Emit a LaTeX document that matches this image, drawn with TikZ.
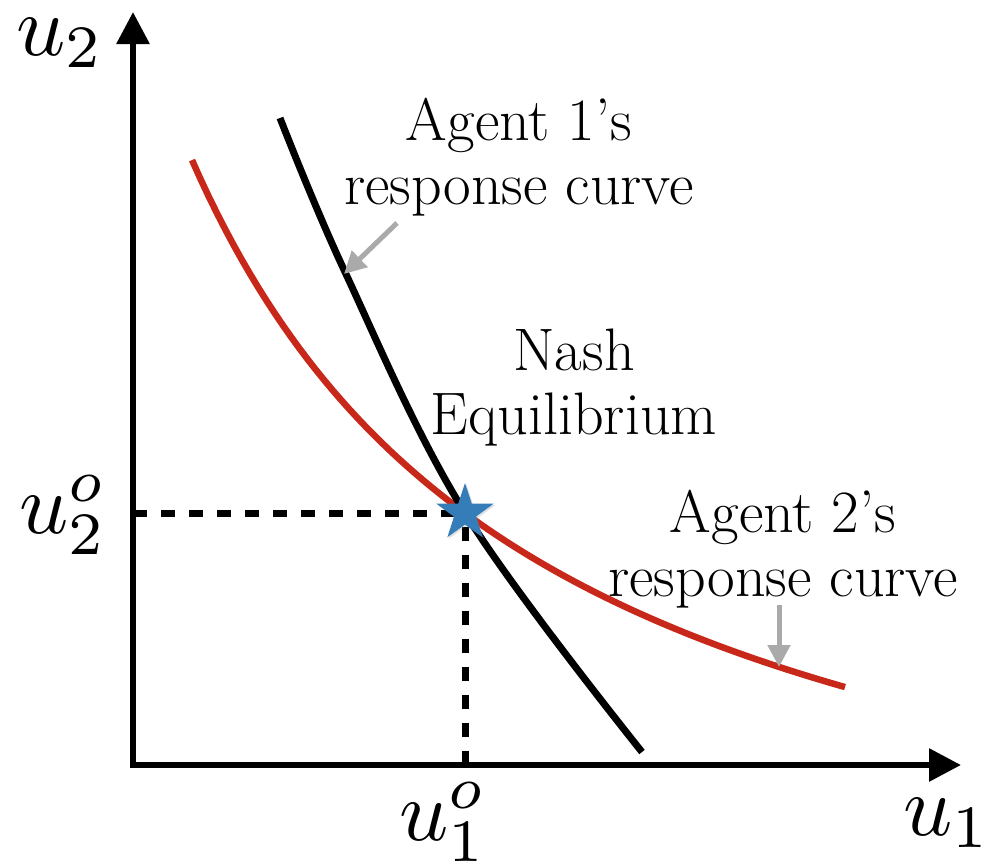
\documentclass[tikz,border=0pt]{standalone}
\usepackage[no-math]{fontspec}
\usetikzlibrary{arrows.meta,shapes.geometric,shadows}
\definecolor{curvered}{RGB}{200,40,25}
\definecolor{starblue}{RGB}{52,125,185}
\definecolor{pointgray}{RGB}{170,170,170}
\tikzset{
  axisline/.style={line width=6pt,line join=miter,{Triangle[length=32pt,width=32pt]}-{Triangle[length=32pt,width=32pt]}},
  guide/.style={line width=7pt,dash pattern=on 14pt off 14pt},
  blackcurve/.style={line width=7pt,black},
  redcurve/.style={line width=6.5pt,curvered},
  pointer/.style={line width=5pt,pointgray,-{Triangle[length=22pt,width=22pt]}},
  curvelabel/.style={font=\addfontfeatures{FakeBold=1.5}\fontsize{60}{64}\selectfont,align=center,inner sep=0pt},
  mathlabel/.style={scale=8.6,inner sep=0pt,anchor=base west},
  nashstar/.style={star,star points=5,star point ratio=2.6,minimum size=60pt,inner sep=0pt,fill=starblue,
    drop shadow={opacity=0.25,shadow xshift=1.5pt,shadow yshift=-1.5pt}}
}
\begin{document}
\begin{tikzpicture}[x=1pt,y=-1pt]
\useasboundingbox (0,0) rectangle (1002,863);
% key coordinates
\coordinate (ytip) at (133,12);
\coordinate (origin) at (133,765);
\coordinate (xtip) at (961,765);
\coordinate (eq) at (465,513);
\coordinate (eqx) at (133,513);
\coordinate (eqy) at (465,765);
% dashed guides
\draw[guide] (eqx) -- (eq);
\draw[guide] (eqy) -- (eq);
% axes
\draw[axisline] (ytip) -- (origin) -- (xtip);
% response curves
\draw[redcurve] plot[domain=192:845,samples=80] (\x,{976-2921/(\x+166)*100});
\draw[blackcurve] plot[smooth,tension=0.6] coordinates {(280,118) (345,272) (465,513) (642,752)};
% star
\node[nashstar] (star) at (eq) {};
% labels
\node[curvelabel] (agent1) at (519,157) {Agent 1’s\\response curve};
\node[curvelabel] (nash) at (574,388) {Nash\\Equilibrium};
\node[curvelabel] (agent2) at (783,549) {Agent 2’s\\response curve};
% pointer arrows
\coordinate (p1s) at (397,223);
\coordinate (p1e) at (344,274);
\coordinate (p2s) at (779,605);
\coordinate (p2e) at (779,667);
\draw[pointer] (p1s) -- (p1e);
\draw[pointer] (p2s) -- (p2e);
% axis labels
\node[mathlabel] (u2) at (15,55) {$u_2$};
\node[mathlabel] (u1) at (902,835) {$u_1$};
\node[mathlabel] (u2o) at (18,533) {$u_2^o$};
\node[mathlabel] (u1o) at (398,840) {$u_1^o$};
\end{tikzpicture}
\end{document}
